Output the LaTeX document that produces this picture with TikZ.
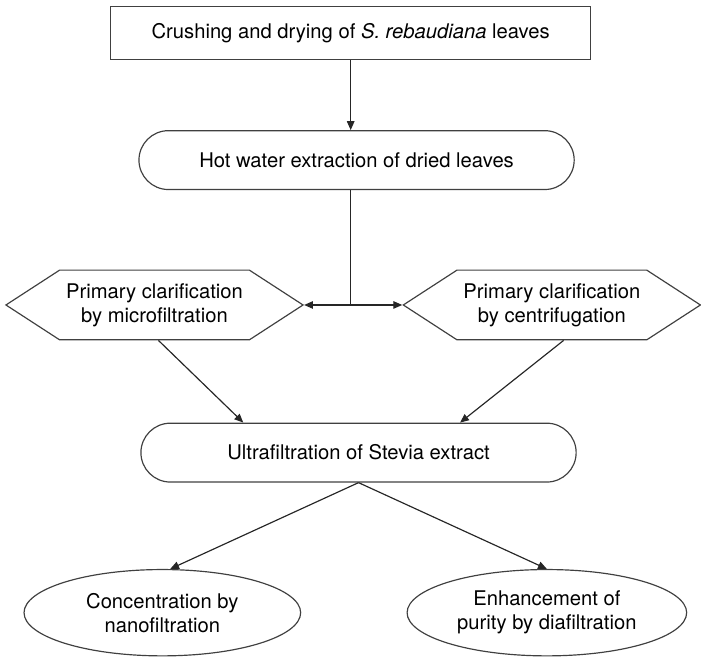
\documentclass[tikz,border=0pt]{standalone}
\usepackage{fontspec}
\setmainfont{TeX Gyre Heros}
\usetikzlibrary{positioning, arrows.meta, shapes.geometric, shapes.symbols, shapes.misc, calc}

\begin{document}
\begin{tikzpicture}[
        font=\fontsize{10.3}{12.3}\selectfont,
        line width=0.6pt,
        stepbox/.style={draw=black!75, rectangle, minimum width=244.5pt, minimum height=27pt, align=center},
        pill/.style={draw=black!75, rounded rectangle, minimum width=228.5pt, minimum height=30pt, align=center},
        hexa/.style={draw=black!75, signal, signal to=west and east, signal pointer angle=66, minimum width=149.5pt, minimum height=35.5pt, align=center},
        oval/.style={draw=black!75, ellipse, inner sep=0pt, minimum width=141pt, minimum height=44pt, align=center},
        arrow/.style={-{Triangle[length=4.5pt, width=3.8pt]}, black!85}
    ]

    \node[stepbox] (Crush) {Crushing and drying of \textit{S. rebaudiana} leaves};

    \node[pill, below=35.5pt of Crush, xshift=3pt] (Hot) {Hot water extraction of dried leaves};

    \node[hexa, below=40.5pt of Hot, xshift=-103pt] (Micro) {Primary clarification\\by microfiltration};
    \node[hexa, right=50pt of Micro, minimum width=146pt] (Centri) {Primary clarification\\by centrifugation};

    \node[pill, below=118.5pt of Hot, xshift=1pt] (Ultra) {Ultrafiltration of Stevia extract};

    \node[oval, below=44pt of Ultra, xshift=-100pt] (Nano) {Concentration by\\nanofiltration};
    \node[oval, below=44pt of Ultra, xshift=96pt, minimum width=142.5pt] (Dia) {Enhancement of\\purity by diafiltration};

    \coordinate (Split) at (Crush.south |- Micro.east);

    \draw[arrow] (Crush.south) -- (Crush.south |- Hot.north);
    \draw[black!85] (Crush.south |- Hot.south) -- (Split);
    \draw[arrow] (Split) -- (Micro.east);
    \draw[arrow] (Split) -- (Centri.west);
    \draw[arrow] ([xshift=2pt]Micro.south) -- ([xshift=-58.75pt]Ultra.north);
    \draw[arrow] ([xshift=6pt]Centri.south) -- ([xshift=51.75pt]Ultra.north);
    \draw[arrow] (Ultra.south) -- ([xshift=4pt]Nano.north);
    \draw[arrow] (Ultra.south) -- (Dia.north);

    \useasboundingbox ($(Crush.center)+(-178.75pt,17pt)$) rectangle ++(350.5pt,-333.5pt);

\end{tikzpicture}
\end{document}
